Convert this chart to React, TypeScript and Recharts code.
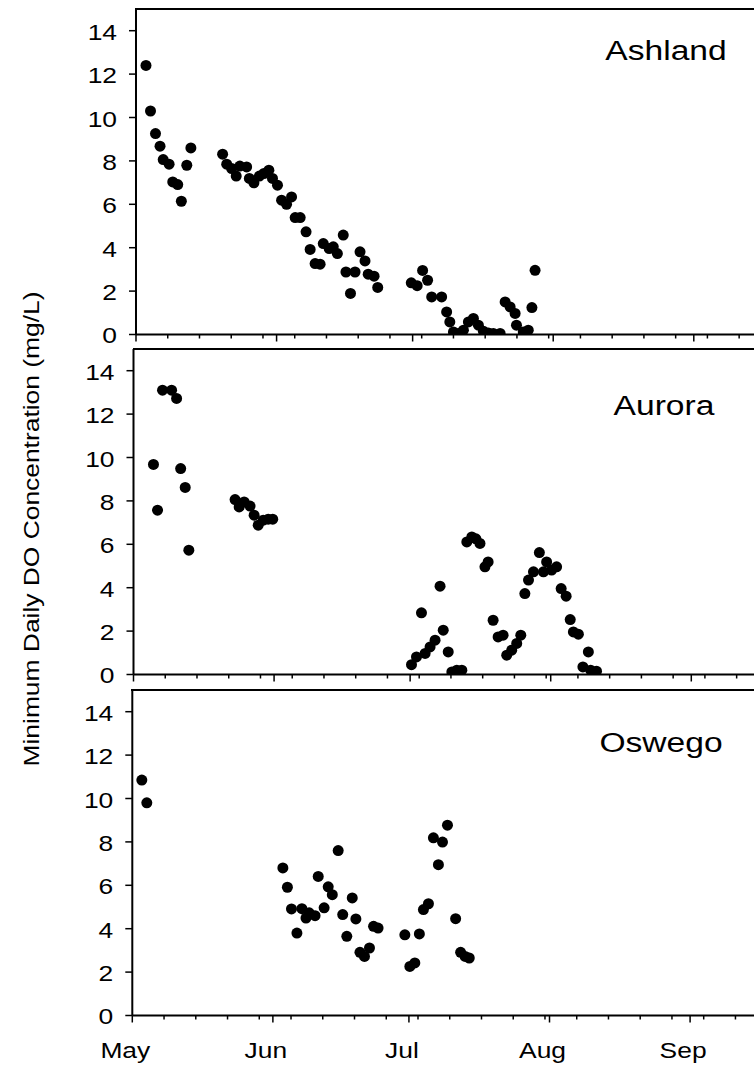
import { ScatterChart, Scatter, XAxis, YAxis } from 'recharts';

// days counted from May 1
const ashlandDay = [
  2.2, 3.2, 4.3, 5.3, 6.0, 7.3, 8.1, 9.2, 10.0, 11.2, 12.1,
  19.1, 20.0, 21.1, 22.1, 22.9, 24.4, 25.0, 26.0, 27.2, 28.2, 29.3, 30.1, 31.2, 32.1, 33.2, 34.3,
  35.1, 36.2, 37.5, 38.4, 39.5, 40.6, 41.3, 42.6, 43.5, 44.4, 45.7, 46.3, 47.3, 48.3, 49.4, 50.5,
  51.2, 52.5, 53.3,
  60.7, 62.0, 63.2, 64.3, 65.2, 67.4, 68.5, 69.2, 70.0, 71.1, 72.2, 73.3, 74.4, 75.5, 76.6, 77.7,
  78.8, 80.3, 81.4, 82.5, 83.6, 83.9, 85.4, 86.5, 87.3, 88.0,
];
const ashlandDO = [
  12.4, 10.3, 9.26, 8.68, 8.06, 7.85, 7.03, 6.91, 6.14, 7.8, 8.6,
  8.31, 7.85, 7.65, 7.3, 7.76, 7.72, 7.19, 6.99, 7.3, 7.42, 7.57, 7.19, 6.88, 6.19, 6.0, 6.34,
  5.39, 5.39, 4.73, 3.92, 3.27, 3.24, 4.19, 3.96, 4.04, 3.73, 4.58, 2.88, 1.89, 2.88, 3.81, 3.39,
  2.78, 2.69, 2.17,
  2.38, 2.25, 2.95, 2.5, 1.73, 1.73, 1.04, 0.58, 0.12, 0.05, 0.2, 0.58, 0.74, 0.43, 0.15, 0.07,
  0.05, 0.05, 1.5, 1.27, 0.97, 0.43, 0.12, 0.2, 1.24, 2.96,
];

const auroraDay = [
  4.4, 5.3, 6.4, 8.4, 9.5, 10.4, 11.4, 12.2,
  22.4, 23.3, 24.4, 25.7, 26.6, 27.5, 28.6, 29.7, 30.7,
  61.3, 62.4, 63.5, 64.3, 65.4, 66.5, 67.6, 68.3, 69.4, 70.2, 71.3, 72.4, 73.5, 74.6, 75.5, 76.4,
  77.5, 78.2, 79.3, 80.4, 81.5, 82.3, 83.4, 84.5, 85.4, 86.3, 87.1, 88.2, 89.5, 90.4, 91.1, 92.2,
  93.3, 94.3, 95.4, 96.3, 97.0, 98.1, 99.1, 100.3, 100.8, 102.1,
];
const auroraDO = [
  9.68, 7.57, 13.1, 13.1, 12.72, 9.49, 8.62, 5.73,
  8.06, 7.72, 7.95, 7.76, 7.34, 6.88, 7.11, 7.16, 7.16,
  0.45, 0.81, 2.84, 0.97, 1.27, 1.58, 4.07, 2.04, 1.04, 0.12, 0.2, 0.2, 6.11, 6.34, 6.25, 6.04,
  4.96, 5.19, 2.5, 1.73, 1.81, 0.89, 1.12, 1.43, 1.81, 3.73, 4.35, 4.73, 5.62, 4.73, 5.19, 4.81,
  4.96, 3.96, 3.61, 2.53, 1.96, 1.86, 0.35, 1.04, 0.2, 0.15,
];

const oswegoDay = [
  2.1, 3.2,
  33.2, 34.2, 35.1, 36.3, 37.4, 38.3, 39.0, 40.3, 41.0, 42.3, 43.2, 44.1, 45.4, 46.4, 47.3, 48.5,
  49.3, 50.2, 51.2, 52.3, 53.2, 54.2,
  60.1, 61.2, 62.3, 63.3, 64.2, 65.3, 66.4, 67.5, 68.4, 69.5, 71.3, 72.4, 73.4, 74.3,
];
const oswegoDO = [
  10.85, 9.8,
  6.8, 5.91, 4.91, 3.8, 4.92, 4.49, 4.73, 4.6, 6.41, 4.96, 5.93, 5.57, 7.6, 4.65, 3.65, 5.42,
  4.45, 2.91, 2.72, 3.11, 4.11, 4.03,
  3.72, 2.26, 2.42, 3.76, 4.88, 5.15, 8.19, 6.95, 7.99, 8.77, 4.46, 2.91, 2.72, 2.65,
];

const monthNames = ['May', 'Jun', 'Jul', 'Aug', 'Sep'];
const monthStartDays = [0, 31, 61, 92, 123];
const xTicks = [0, 7, 14, 21, 28, 31, 35, 42, 49, 56, 61, 63, 70, 77, 84, 91, 92, 98, 105, 112, 119, 123, 126, 133, 140];
const yTicks = [0, 2, 4, 6, 8, 10, 12, 14];

const FONT = '"Liberation Sans", Arial, Helvetica, sans-serif';
const PX_PER_DAY = 4.535;
const PLOT_H = 325.5;
const PAD_TOP = 5;
const X_MAX = 140;
const Y_MAX = 15;

const YTick = ({ x, y, payload }: any) => (
  <g>
    <line x1={x} x2={x - 7} y1={y} y2={y} stroke="#000" strokeWidth={1.5} />
    <text
      transform={`translate(${x - 19},${y + 9}) scale(1.2,1)`}
      textAnchor="end"
      fontSize={22}
      fontFamily={FONT}
      fill="#000"
    >
      {payload.value}
    </text>
  </g>
);

const makeXTick = (showLabel: boolean) => ({ x, y, payload }: any) => {
  const idx = monthStartDays.indexOf(payload.value);
  const major = idx >= 0;
  return (
    <g>
      <line x1={x} x2={x} y1={y} y2={y + (major ? 7 : 4)} stroke="#000" strokeWidth={1.5} />
      {showLabel && major && (
        <text
          transform={`translate(${x - 7},${y + 42.5}) scale(1.2,1)`}
          textAnchor="middle"
          fontSize={22}
          fontFamily={FONT}
          fill="#000"
        >
          {monthNames[idx]}
        </text>
      )}
    </g>
  );
};

const Dot = (props: any) => <circle cx={props.cx} cy={props.cy} r={5.5} fill="#000" />;

function Panel({ days, values, left, top, showLabels }: {
  days: number[]; values: number[]; left: number; top: number; showLabels: boolean;
}) {
  const data = days.map((d, i) => ({ day: d, value: values[i] }));
  const axisH = showLabels ? 50 : 20;
  const width = left + X_MAX * PX_PER_DAY + 30;
  return (
    <div style={{ position: 'absolute', left: 0, top: top - PAD_TOP, width: 754, overflow: 'hidden' }}>
      <ScatterChart
        width={width}
        height={PAD_TOP + PLOT_H + axisH}
        margin={{ top: PAD_TOP, right: 30, bottom: 0, left: 0 }}
      >
        <XAxis
          type="number"
          dataKey="day"
          domain={[0, X_MAX]}
          ticks={xTicks}
          interval={0}
          allowDataOverflow
          height={axisH}
          tickSize={0}
          tickMargin={0}
          tickLine={false}
          tick={makeXTick(showLabels)}
          axisLine={{ stroke: '#000', strokeWidth: 2 }}
        />
        <YAxis
          type="number"
          dataKey="value"
          domain={[0, Y_MAX]}
          ticks={yTicks}
          interval={0}
          allowDataOverflow
          width={left}
          tickSize={0}
          tickMargin={0}
          tickLine={false}
          tick={YTick}
          axisLine={{ stroke: '#000', strokeWidth: 2 }}
        />
        <Scatter data={data} shape={Dot} isAnimationActive={false} />
      </ScatterChart>
      {/* top edge of the panel frame */}
      <div
        style={{
          position: 'absolute',
          left: left - 1,
          right: 0,
          top: PAD_TOP - 1,
          borderTop: '2px solid #000',
        }}
      />
    </div>
  );
}

export default function App() {
  return (
    <div
      style={{
        position: 'fixed',
        left: 0,
        top: 0,
        width: 754,
        height: 1069,
        overflow: 'hidden',
        background: '#fff',
      }}
    >
      <Panel days={ashlandDay} values={ashlandDO} left={136} top={8.8} showLabels={false} />
      <Panel days={auroraDay} values={auroraDO} left={133.5} top={348.8} showLabels={false} />
      <Panel days={oswegoDay} values={oswegoDO} left={132.3} top={690.2} showLabels={true} />
      <svg
        width={754}
        height={1069}
        style={{ position: 'absolute', left: 0, top: 0, pointerEvents: 'none' }}
      >
        <g fontFamily={FONT} fill="#000">
          <text transform="translate(666,60) scale(1.2,1)" textAnchor="middle" fontSize={28}>Ashland</text>
          <text transform="translate(664,415) scale(1.2,1)" textAnchor="middle" fontSize={28}>Aurora</text>
          <text transform="translate(661,751.7) scale(1.2,1)" textAnchor="middle" fontSize={28}>Oswego</text>
          <text transform="translate(38.5,529) rotate(-90) scale(1.2,1)" textAnchor="middle" fontSize={22}>
            Minimum Daily DO Concentration (mg/L)
          </text>
        </g>
      </svg>
    </div>
  );
}
